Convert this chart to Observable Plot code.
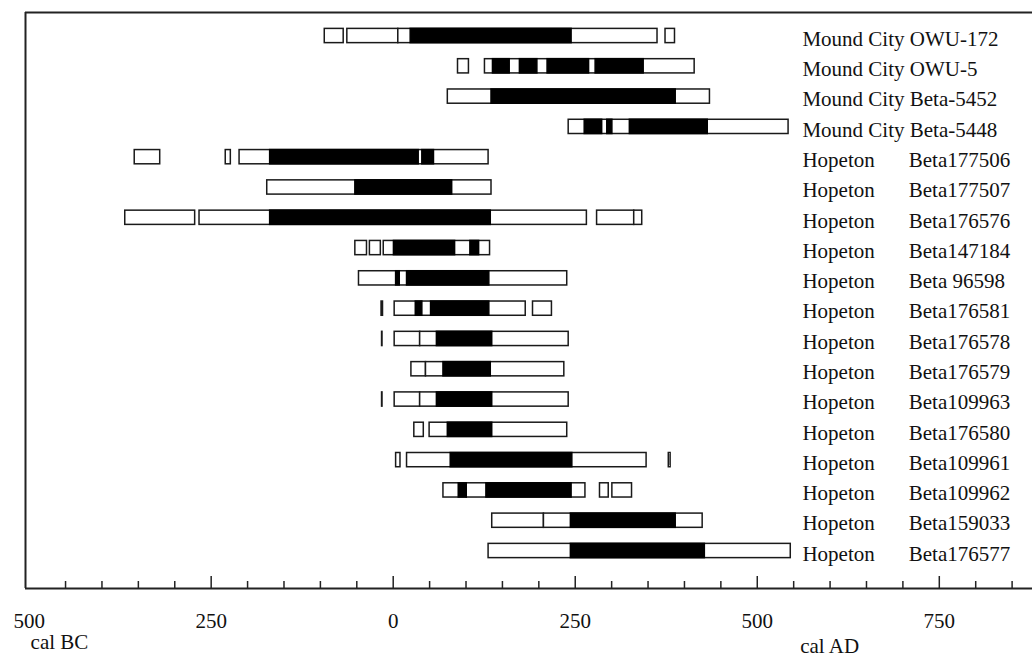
<!DOCTYPE html>
<html>
<head>
<meta charset="utf-8">
<script src="https://cdn.jsdelivr.net/npm/d3@7"></script>
<script src="https://cdn.jsdelivr.net/npm/@observablehq/plot@0.6"></script>
<style>
  html, body { margin: 0; padding: 0; background: #fff; }
  #chart svg { display: block; }
</style>
</head>
<body>
<div id="chart"></div>
<script>
// ---- data (calendar years; negative = BC) ----
const sites = [
  "Mound City", "Mound City", "Mound City", "Mound City",
  "Hopeton", "Hopeton", "Hopeton", "Hopeton", "Hopeton", "Hopeton",
  "Hopeton", "Hopeton", "Hopeton", "Hopeton", "Hopeton", "Hopeton",
  "Hopeton", "Hopeton"
];
const labs = [
  "OWU-172", "OWU-5", "Beta-5452", "Beta-5448",
  "Beta177506", "Beta177507", "Beta176576", "Beta147184", "Beta 96598", "Beta176581",
  "Beta176578", "Beta176579", "Beta109963", "Beta176580", "Beta109961", "Beta109962",
  "Beta159033", "Beta176577"
];
// 2-sigma calibrated ranges (open boxes)
const twoSigma = [
  [[-94, -68], [-63, 7], [7, 363], [374, 387]],
  [[89, 104], [126, 414]],
  [[75, 435]],
  [[241, 543]],
  [[-355, -320], [-230, -223], [-211, 131]],
  [[-173, 135]],
  [[-368, -272], [-266, 266], [280, 331], [331, 342]],
  [[-52, -36], [-32, -17], [-13, 133]],
  [[-47, 239]],
  [[-16, -14], [2, 182], [192, 218]],
  [[-15.3, -14.7], [2, 37], [37, 241]],
  [[25, 45], [45, 235]],
  [[-15.3, -14.7], [2, 37], [37, 241]],
  [[29, 42], [50, 239]],
  [[4, 10], [19, 348], [378.5, 381]],
  [[69, 101], [101, 264], [284, 296], [301, 328]],
  [[136, 207], [207, 425]],
  [[131, 546]]
];
// 1-sigma calibrated ranges (black boxes)
const oneSigma = [
  [[24, 245]],
  [[137, 160], [174, 198], [212, 269], [278, 344]],
  [[135, 388]],
  [[263, 287], [294, 301], [325, 432]],
  [[-169, 35], [40, 56]],
  [[-52, 81]],
  [[-169, 134]],
  [[1, 85], [106, 118]],
  [[4, 9], [19, 132]],
  [[31, 40], [52, 132]],
  [[60, 136]],
  [[69, 134]],
  [[60, 136]],
  [[75, 136]],
  [[79, 246]],
  [[90, 101], [128, 245]],
  [[244, 388]],
  [[244, 428]]
];
const majorTicks = [-250, 0, 250, 500, 750];
const tickValues = [-500, -250, 0, 250, 500, 750];
const tickLabels = ["500", "250", "0", "250", "500", "750"];
const minorTicks = [-450, -400, -350, -300, -200, -150, -100, -50, 50, 100, 150, 200,
                    300, 350, 400, 450, 550, 600, 650, 700, 800, 850];
const eraLabels = ["cal BC", "cal AD"];
const eraYears = [-498, 559];

// ---- tables for the marks ----
const rows = sites.map((s, i) => ({row: i, site: s, lab: labs[i]}));
const outer = twoSigma.flatMap((r, i) => r.map(([a, b]) => ({row: i, start: a, end: b})));
const inner = oneSigma.flatMap((r, i) => r.map(([a, b]) => ({row: i, start: a, end: b})));
const eras = eraLabels.map((t, i) => ({text: t, x: eraYears[i]}));

const xDomain = [-505, 878];
const yDomain = [-0.776, 18.238];
const half = 0.235;
const frameH = 576;
const serif = "'Liberation Serif', 'Times New Roman', Times, serif";

const chart = Plot.plot({
  width: 1032,
  height: 658,
  marginTop: 12,
  marginBottom: 70,
  marginLeft: 25,
  marginRight: 0,
  style: {fontFamily: serif, fontSize: "21px", color: "#111", background: "#fff"},
  x: {domain: xDomain, range: [25, 1032]},
  y: {domain: yDomain, range: [12, 588], axis: null},
  marks: [
    // frame lines
    Plot.ruleX([xDomain[0]], {stroke: "#222", strokeWidth: 2}),
    Plot.ruleY([yDomain[0]], {stroke: "#222", strokeWidth: 2}),
    Plot.ruleY([yDomain[1]], {stroke: "#222", strokeWidth: 2}),
    // ticks pointing inward
    Plot.ruleX(minorTicks, {insetTop: frameH - 7, stroke: "#222", strokeWidth: 1.5}),
    Plot.ruleX(majorTicks, {insetTop: frameH - 12, stroke: "#222", strokeWidth: 1.5}),
    Plot.axisX(tickValues, {
      anchor: "bottom", tickSize: 0, tickPadding: 25, label: null,
      tickFormat: d => tickLabels[tickValues.indexOf(d)],
      fontSize: 21, fill: "#111"
    }),
    // 2-sigma boxes
    Plot.rect(outer, {
      x1: "start", x2: "end",
      y1: d => d.row - half, y2: d => d.row + half,
      fill: "white", stroke: "#1a1a1a", strokeWidth: 1.5
    }),
    // 1-sigma boxes
    Plot.rect(inner, {
      x1: "start", x2: "end",
      y1: d => d.row - half, y2: d => d.row + half,
      fill: "black", stroke: "black", strokeWidth: 1.5
    }),
    // labels
    Plot.text(rows, {
      x: 562, y: "row",
      text: d => d.site === "Mound City" ? d.site + " " + d.lab : d.site,
      textAnchor: "start", dy: 3, fontSize: 21, fill: "#111"
    }),
    Plot.text(rows.filter(d => d.site !== "Mound City"), {
      x: 708, y: "row", text: "lab",
      textAnchor: "start", dy: 3, fontSize: 21, fill: "#111"
    }),
    Plot.text(eras.slice(0, 1), {
      x: "x", text: "text", frameAnchor: "bottom", lineAnchor: "middle",
      dy: 53.5, textAnchor: "start", fontSize: 21, fill: "#111"
    }),
    Plot.text(eras.slice(1), {
      x: "x", text: "text", frameAnchor: "bottom", lineAnchor: "middle",
      dy: 58, textAnchor: "start", fontSize: 21, fill: "#111"
    })
  ]
});
document.getElementById("chart").appendChild(chart);
</script>
</body>
</html>
